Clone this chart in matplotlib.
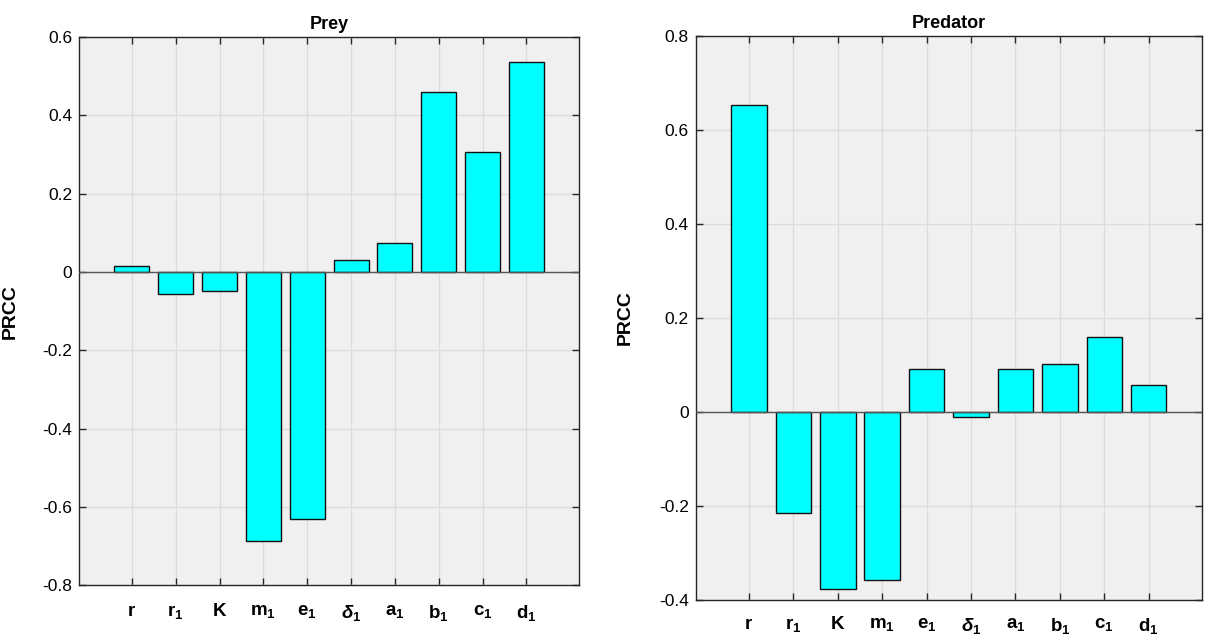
import matplotlib
matplotlib.use("Agg")
import matplotlib.pyplot as plt

# Sensitivity parameters and PRCC values for each population
params = [r"$\mathrm{r}$", r"$\mathrm{r}_{1}$", r"$\mathrm{K}$", r"$\mathrm{m}_{1}$",
          r"$\mathrm{e}_{1}$", r"$\delta_{1}$", r"$\mathrm{a}_{1}$", r"$\mathrm{b}_{1}$",
          r"$\mathrm{c}_{1}$", r"$\mathrm{d}_{1}$"]
prey_prcc = [0.014, -0.056, -0.049, -0.688, -0.632, 0.030, 0.073, 0.460, 0.306, 0.536]
predator_prcc = [0.654, -0.215, -0.377, -0.359, 0.092, -0.011, 0.091, 0.101, 0.160, 0.057]

prey_yticks = [0.6, 0.4, 0.2, 0, -0.2, -0.4, -0.6, -0.8]
prey_ylabels = ["0.6", "0.4", "0.2", "0", "-0.2", "-0.4", "-0.6", "-0.8"]
pred_yticks = [0.8, 0.6, 0.4, 0.2, 0, -0.2, -0.4]
pred_ylabels = ["0.8", "0.6", "0.4", "0.2", "0", "-0.2", "-0.4"]

plt.rcParams["font.family"] = ["Liberation Sans", "DejaVu Sans"]
plt.rcParams["mathtext.fontset"] = "custom"
plt.rcParams["mathtext.rm"] = "Liberation Sans:bold"
plt.rcParams["mathtext.bf"] = "Liberation Sans:bold"
plt.rcParams["mathtext.it"] = "Liberation Sans:bold:italic"

W, H = 1205, 640
fig = plt.figure(figsize=(W / 100, H / 100), dpi=100)
fig.patch.set_facecolor("white")


def panel(rect_px, values, yticks, ylabels, ylim, title, xpad):
    x0, y0, x1, y1 = rect_px
    ax = fig.add_axes([x0 / W, 1 - y1 / H, (x1 - x0) / W, (y1 - y0) / H])
    ax.set_facecolor("#f0f0f0")
    pos = list(range(1, len(values) + 1))
    ax.set_axisbelow(True)
    ax.grid(True, color="#dcdcdc", linewidth=1.0)
    ax.bar(pos, values, width=0.8, color="#00ffff", edgecolor="#111111",
           linewidth=1.0, zorder=3)
    ax.axhline(0, color="#555555", linewidth=1.0, zorder=4)
    ax.set_xlim(-0.2, 11.2)
    ax.set_ylim(*ylim)
    ax.set_xticks(pos)
    ax.set_xticklabels(params)
    ax.set_yticks(yticks)
    ax.set_yticklabels(ylabels)
    ax.tick_params(axis="both", direction="in", length=5, width=1,
                   color="#262626", top=True, right=True, labelsize=12.5)
    ax.tick_params(axis="x", pad=xpad, labelsize=13.5)
    ax.tick_params(axis="y", pad=5)
    for s in ax.spines.values():
        s.set_color("#262626")
        s.set_linewidth(1.0)
    ax.set_title(title, fontsize=13, fontweight="bold", pad=6)
    ax.set_ylabel("PRCC", fontsize=14, fontweight="bold")
    ax.yaxis.set_label_coords(-0.122, 0.5)
    return ax


panel((79.3, 37, 579, 585.2), prey_prcc, prey_yticks, prey_ylabels,
      (-0.8, 0.6), "Prey", 13)
panel((695.7, 36.3, 1202, 599.7), predator_prcc, pred_yticks, pred_ylabels,
      (-0.4, 0.8), "Predator", 12)

fig.savefig("out.png", dpi=100, facecolor="white")
